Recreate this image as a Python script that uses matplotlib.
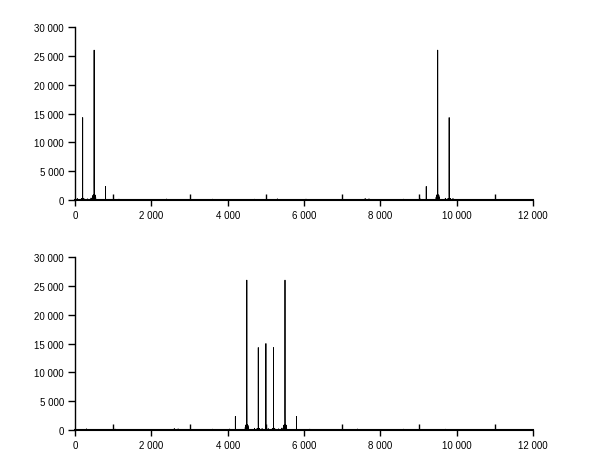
import numpy as np
import matplotlib.pyplot as plt
from matplotlib.ticker import FuncFormatter, MultipleLocator

plt.rcParams['font.family'] = ['Liberation Sans', 'DejaVu Sans']

# spectrum of a 10000-sample signal (magnitude of the FFT)
n_samples = 10000
peak_bins = [0, 200, 500, 800, 9200, 9500, 9800]
peak_heights = [15000, 14300, 26000, 2350, 2350, 26000, 14300]

# bins right next to the strong peaks
near_bins = [499, 501, 9499, 9501, 199, 201, 9799, 9801]
near_values = [4500, 3000, 3000, 4500, 1200, 900, 900, 1200]

# small leakage skirts around the strong peaks
skirt_bins = [500, 9500, 200, 9800]
skirt_offsets = [-50, -40, -30, -20, -10, 10, 20, 30, 40, 50]
skirt_values = [150, 500, 800, 900, 700, 700, 900, 800, 500, 150]
skirt_scale = [1.0, 1.0, 0.3, 0.3]

# a few noise spikes seen along the floor
noise_bins = [60, 330, 420, 1150, 2400, 3600, 4700, 5300, 6050, 7600, 7700, 8600, 9050, 9700, 9900]
noise_values = [250, 200, 350, 150, 180, 150, 140, 200, 160, 250, 200, 150, 180, 300, 250]


def fmt(v, pos):
    return '{:,}'.format(int(v)).replace(',', ' ')


spectrum = np.zeros(n_samples)
spectrum[noise_bins] = noise_values
for b, s in zip(skirt_bins, skirt_scale):
    for off, val in zip(skirt_offsets, skirt_values):
        spectrum[b + off] = val * s
spectrum[near_bins] = near_values
spectrum[peak_bins] = peak_heights

shifted = np.fft.fftshift(spectrum)
x = np.arange(n_samples)

fig = plt.figure(figsize=(6.1, 4.6), dpi=100)
ax1 = fig.add_axes([0.123, 0.563, 0.751, 0.376])
ax2 = fig.add_axes([0.123, 0.063, 0.751, 0.376])

for ax, data in [(ax1, spectrum), (ax2, shifted)]:
    ax.plot(x, data, color='black', lw=0.6)
    ax.set_xlim(0, 12000)
    ax.set_ylim(0, 30000)
    ax.spines['top'].set_visible(False)
    ax.spines['right'].set_visible(False)
    ax.spines['left'].set_linewidth(1.0)
    ax.spines['bottom'].set_linewidth(1.5)
    ax.xaxis.set_major_locator(MultipleLocator(2000))
    ax.xaxis.set_minor_locator(MultipleLocator(1000))
    ax.yaxis.set_major_locator(MultipleLocator(5000))
    ax.xaxis.set_major_formatter(FuncFormatter(fmt))
    ax.yaxis.set_major_formatter(FuncFormatter(fmt))
    ax.tick_params(axis='x', which='major', direction='out', length=4, width=1, labelsize=7, pad=3)
    ax.tick_params(axis='x', which='minor', direction='in', length=4, width=1)
    ax.tick_params(axis='y', which='major', direction='out', length=5, width=1, labelsize=7, pad=3)

fig.savefig('out.png', dpi=100)
